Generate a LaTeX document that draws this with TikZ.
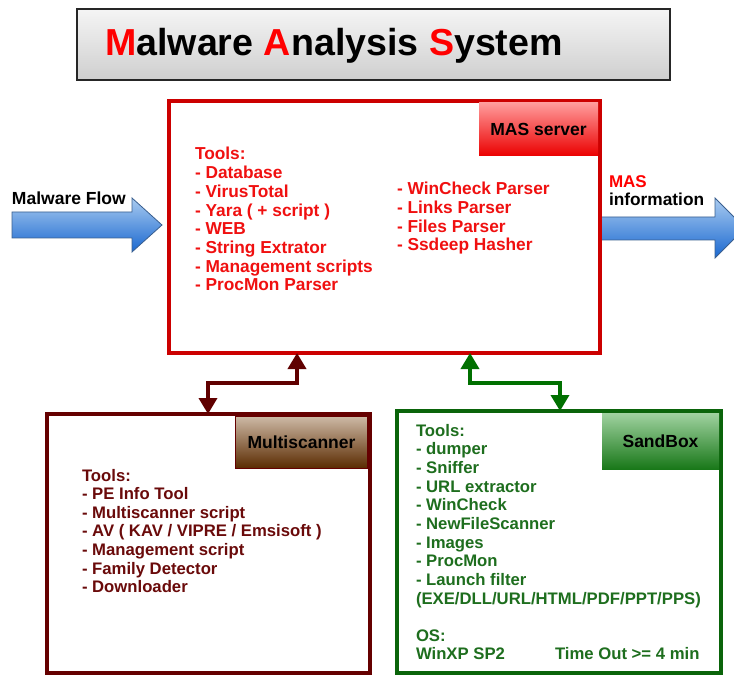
\documentclass[tikz,border=0pt]{standalone}
\usepackage{fontspec}
\setmainfont{Liberation Sans}
\usetikzlibrary{arrows.meta,calc}
\definecolor{masred}{HTML}{CC0000}
\definecolor{mastext}{HTML}{F01010}
\definecolor{maroonc}{HTML}{650000}
\definecolor{mstext}{HTML}{6A0A0A}
\definecolor{sbgreen}{HTML}{0A640A}
\definecolor{sbtext}{HTML}{1E6E1E}
\definecolor{connmaroon}{HTML}{600000}
\definecolor{conngreen}{HTML}{007000}
\definecolor{flowtop}{HTML}{A9CBF0}
\definecolor{flowbot}{HTML}{1A68D0}
\definecolor{flowedge}{HTML}{3A5F8F}
\tikzset{
  bigbox/.style={draw, line width=4pt, fill=white, outer sep=0pt, inner sep=0pt, anchor=north west},
  lbl/.style={anchor=north east, outer sep=0pt, inner sep=0pt, font=\fontsize{17.5}{20}\selectfont\bfseries, text=black},
  tline/.style={anchor=base west, inner sep=0pt, outer sep=0pt},
  mastxt/.style={tline, text=mastext, font=\fontsize{17.3}{18.7}\selectfont\bfseries},
  mstxt/.style={tline, text=mstext, font=\fontsize{16.7}{18.7}\selectfont\bfseries},
  sbtxt/.style={tline, text=sbtext, font=\fontsize{16.7}{18.7}\selectfont\bfseries},
  conn/.style={line width=3.5pt, {Triangle[width=18pt,length=16pt]}-{Triangle[width=18pt,length=16pt]}},
  flow/.style={top color=flowtop, bottom color=flowbot, draw=flowedge, line width=0.8pt}
}
\begin{document}
\begin{tikzpicture}[x=1pt,y=-1pt]
\useasboundingbox (0,0) rectangle (734,679);
\clip (0,0) rectangle (734,679);

% title
\node[draw=black!85, line width=2.5pt, top color=gray!8, bottom color=gray!38, minimum width=593pt, minimum height=71pt, anchor=north west, outer sep=0pt] (titlebox) at (77,9) {};
\node[font=\fontsize{37.6}{40}\selectfont\bfseries, inner sep=0pt] (title) at (334,46)
  {\textcolor{red}{M}alware \textcolor{red}{A}nalysis \textcolor{red}{S}ystem};

% flow arrows
\path[flow] (12,212) -- (132,212) -- (132,198) -- (162,225) -- (132,252) -- (132,238) -- (12,238) -- cycle;
\node[tline, font=\fontsize{17.5}{20}\selectfont\bfseries] (mflow) at (12,205) {Malware Flow};
\path[flow] (598,217) -- (715,217) -- (715,198) -- (745,228) -- (715,258) -- (715,240) -- (598,240) -- cycle;
\node[tline, text=red, font=\fontsize{17}{20}\selectfont\bfseries] (masinfo1) at (609,187.5) {MAS};
\node[tline, font=\fontsize{17.3}{20}\selectfont\bfseries] (masinfo2) at (609,205.5) {information};

% MAS server
\node[bigbox, draw=masred, minimum width=431pt, minimum height=252pt] (mas) at (169,101) {};
\node[lbl, top color={rgb,255:red,255;green,155;blue,155}, bottom color={rgb,255:red,235;green,0;blue,0}, minimum width=119pt, minimum height=53pt] (maslbl) at ($(mas.north east)+(-2,2)$) {MAS server};
\foreach \t [count=\i] in {Tools:, - Database, - VirusTotal, - Yara ( + script ), - WEB, - String Extrator, - Management scripts, - ProcMon Parser}
  \node[mastxt] (masl\i) at (195,{160+18.7*(\i-1)}) {\t};
\foreach \t [count=\i] in {- WinCheck Parser, - Links Parser, - Files Parser, - Ssdeep Hasher}
  \node[mastxt] (masr\i) at (397,{195+18.6*(\i-1)}) {\t};

% Multiscanner
\node[bigbox, draw=maroonc, minimum width=323pt, minimum height=259pt] (ms) at (47,414) {};
\node[lbl, draw=maroonc, line width=0.8pt, top color={rgb,255:red,205;green,185;blue,165}, bottom color={rgb,255:red,90;green,42;blue,0}, minimum width=132pt, minimum height=52pt] (mslbl) at ($(ms.north east)+(-2.5,2.5)$) {Multiscanner};
\foreach \t [count=\i] in {Tools:, - PE Info Tool, - Multiscanner script, - AV ( KAV / VIPRE / Emsisoft ), - Management script, - Family Detector, - Downloader}
  \node[mstxt] (msl\i) at (82,{481+18.6*(\i-1)}) {\t};

% SandBox
\node[bigbox, draw=sbgreen, minimum width=324pt, minimum height=262pt] (sb) at (397,411) {};
\node[lbl, top color={rgb,255:red,160;green,210;blue,160}, bottom color={rgb,255:red,25;green,120;blue,25}, minimum width=117pt, minimum height=56pt] (sblbl) at ($(sb.north east)+(-2,2)$) {SandBox};
\foreach \t [count=\i] in {Tools:, - dumper, - Sniffer, - URL extractor, - WinCheck, - NewFileScanner, - Images, - ProcMon, - Launch filter, (EXE/DLL/URL/HTML/PDF/PPT/PPS)}
  \node[sbtxt] (sbl\i) at (416,{436+18.7*(\i-1)}) {\t};
\node[sbtxt] (sbos) at (416,641) {OS:};
\node[sbtxt] (sbwin) at (416,659) {WinXP SP2};
\node[sbtxt] (sbtime) at (555,659) {Time Out >= 4 min};

% connectors
\coordinate (m1) at (297,383);
\coordinate (m2) at (208,383);
\draw[conn, draw=connmaroon] (mas.south -| m1) -- (m1) -- (m2) -- (ms.north -| m2);
\coordinate (g1) at (470,383);
\coordinate (g2) at (560,383);
\draw[conn, draw=conngreen] (mas.south -| g1) -- (g1) -- (g2) -- (sb.north -| g2);
\end{tikzpicture}
\end{document}
